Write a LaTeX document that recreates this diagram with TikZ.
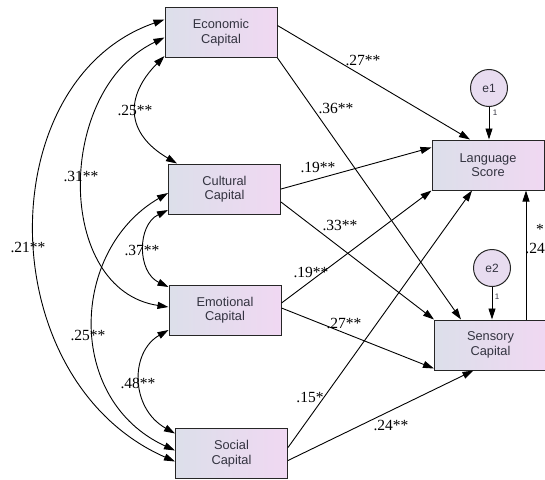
\documentclass[tikz,border=0pt]{standalone}
\usepackage{fontspec}
\newfontfamily\varfont{Liberation Sans}
\newfontfamily\coeffont{Liberation Serif}
\usetikzlibrary{arrows.meta,calc}

\definecolor{boxleft}{HTML}{DCDFEA}
\definecolor{boxright}{HTML}{F0D8F2}
\definecolor{errfill}{HTML}{E8DCF0}
\definecolor{labelgray}{HTML}{333340}

\begin{document}
\begin{tikzpicture}[x=1pt,y=-1pt,
  varbox/.style={draw=black!85,line width=1pt,left color=boxleft,right color=boxright,
    minimum width=112pt,minimum height=50pt,inner sep=0pt,align=center,
    text=labelgray,font=\varfont\fontsize{12.8}{14.5}\selectfont},
  errnode/.style={circle,draw=black!85,line width=1pt,fill=errfill,minimum size=37pt,
    inner sep=0pt,text=labelgray,font=\varfont\fontsize{12}{14}\selectfont},
  regpath/.style={-{Triangle[length=11pt,width=7pt]},line width=0.9pt},
  covpath/.style={{Triangle[length=11pt,width=7pt]}-{Triangle[length=11pt,width=7pt]},line width=0.9pt},
  coef/.style={inner sep=0pt,font=\coeffont\fontsize{15.5}{17}\selectfont},
  fixlbl/.style={inner sep=0pt,text=labelgray,font=\varfont\fontsize{8}{9}\selectfont}]
\useasboundingbox (0,0) rectangle (545,479);

\node[varbox] (econ) at (221,32.5) {Economic\\Capital};
\node[varbox] (cult) at (224.5,189) {Cultural\\Capital};
\node[varbox] (emot) at (225,310) {Emotional\\Capital};
\node[varbox] (soc) at (231.5,453.5) {Social\\Capital};
\node[varbox] (lang) at (488,165) {Language\\Score};
\node[varbox] (sens) at (490.5,345) {Sensory\\Capital};
\node[errnode] (e1) at (489,88) {e1};
\node[errnode] (e2) at (492,268) {e2};

\draw[regpath] ([yshift=7pt]econ.east) -- ([xshift=-18pt]lang.north);
\draw[regpath] (econ.south east) -- ([xshift=27pt]sens.north west);
\draw[regpath] (cult.east) -- ([yshift=-8pt]lang.north west);
\draw[regpath] ([yshift=-13pt]cult.east) -- (sens.north west);
\draw[regpath] ([yshift=7pt]emot.east) -- (lang.south west);
\draw[regpath] ([yshift=2pt]emot.east) -- ([yshift=2pt]sens.south west);
\draw[regpath] ([yshift=6pt]soc.east) -- ([xshift=-16pt]lang.south);
\draw[regpath] ([yshift=-7pt]soc.east) -- ([xshift=-17pt]sens.south);
\draw[regpath] ([xshift=-21pt]sens.north east) -- ([xshift=-21pt]sens.north east |- lang.south);
\draw[regpath] (e1.south) -- (e1.south |- lang.north);
\draw[regpath] (e2.south) -- (e2.south |- sens.north);

\draw[covpath] ([yshift=2pt]econ.south west) .. controls (125,96) and (125,133) .. ([xshift=9pt]cult.north west);
\draw[covpath] ([yshift=-5pt]econ.west) .. controls (55,90) and (55,290) .. ([yshift=3pt]emot.west);
\draw[covpath] ([yshift=13pt]econ.west) .. controls (-10,80) and (-10,380) .. ([yshift=-8pt]soc.west);
\draw[covpath] ([yshift=-21pt]cult.west) .. controls (137,225) and (137,272) .. ([yshift=23pt]emot.west);
\draw[covpath] ([yshift=-4pt]cult.west) .. controls (70,250) and (65,400) .. ([yshift=3pt]soc.west);
\draw[covpath] ([yshift=-20pt]emot.west) .. controls (130,352) and (130,408) .. ([yshift=20pt]soc.west);

\node[coef] (c-ec) at (135,110) {.25**};
\node[coef] (c-ee) at (81,176) {.31**};
\node[coef] (c-es) at (28,247) {.21**};
\node[coef] (c-ce) at (142,250) {.37**};
\node[coef] (c-cs) at (88,335) {.25**};
\node[coef] (c-ms) at (138,383) {.48**};
\node[coef] (p-el) at (363,60) {.27**};
\node[coef] (p-es) at (336,108) {.36**};
\node[coef] (p-cl) at (318,167) {.19**};
\node[coef] (p-cs) at (340,225) {.33**};
\node[coef] (p-ml) at (311,272) {.19**};
\node[coef] (p-ms) at (344,323) {.27**};
\node[coef] (p-sl) at (310,397) {.15*};
\node[coef] (p-ss) at (391,425) {.24**};
\node[coef,anchor=east] (p-rl) at (545,248) {.24};
\node[coef] (p-rl-star) at (540,229) {*};
\node[fixlbl] (f1) at (495,113) {1};
\node[fixlbl] (f2) at (497,297) {1};
\end{tikzpicture}
\end{document}
